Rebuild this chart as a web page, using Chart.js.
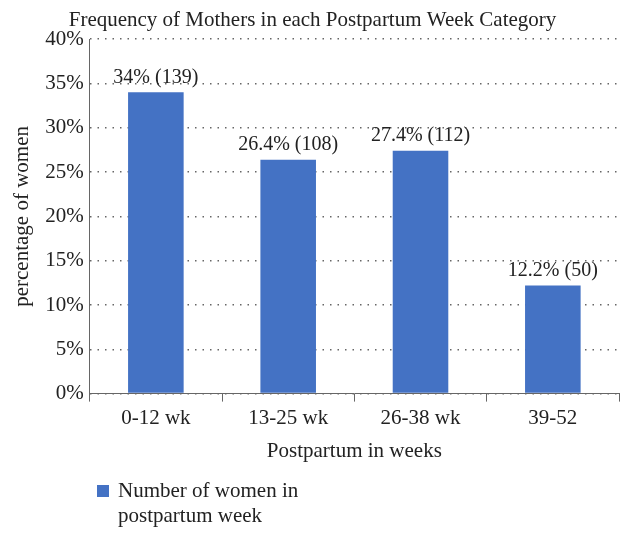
<!DOCTYPE html>
<html><head><meta charset="utf-8">
<script src="https://cdn.jsdelivr.net/npm/chart.js@4/dist/chart.umd.min.js"></script>
<style>
html,body{margin:0;padding:0;background:#fff;}
#wrap{position:relative;width:639px;height:540px;}
#legend{position:absolute;left:97px;top:478px;font-family:"Liberation Serif",serif;font-size:21px;color:#222;line-height:25px;}
#legend span.box{position:absolute;left:0;top:7px;width:12px;height:12px;background:#4472C4;}
#legend div.t{margin-left:21px;}
</style></head>
<body><div id="wrap"><canvas id="c" width="639" height="540"></canvas>
<div id="legend"><span class="box"></span><div class="t">Number of women in<br>postpartum week</div></div></div>
<script>
const categories = ["0-12 wk","13-25 wk","26-38 wk","39-52"];
const percents = [34, 26.4, 27.4, 12.2];
const counts = [139, 108, 112, 50];
const seriesName = "Number of women in postpartum week";
const FONT = "'Liberation Serif', serif";

const labelPlugin = {
  id:'lbl',
  afterDatasetsDraw(chart){
    const ctx=chart.ctx, meta=chart.getDatasetMeta(0);
    ctx.save();ctx.font="20px "+FONT;ctx.fillStyle="#222";ctx.textAlign="center";ctx.textBaseline="bottom";
    meta.data.forEach((b,i)=>{ctx.fillText(percents[i]+"% ("+counts[i]+")", b.x, b.y-5);});
    ctx.restore();
  }
};

new Chart(document.getElementById('c'),{
  type:'bar',
  data:{labels:categories,datasets:[{label:seriesName,data:percents,backgroundColor:'#4472C4',barPercentage:0.42,categoryPercentage:1}]},
  options:{
    responsive:false,animation:false,
    layout:{padding:{left:6,right:20,top:0,bottom:72}},
    plugins:{
      legend:{display:false},tooltip:{enabled:false},
      title:{display:true,text:"Frequency of Mothers in each Postpartum Week Category",font:{family:FONT,size:21,weight:'normal'},color:'#222',padding:{top:8,bottom:6}}
    },
    scales:{
      x:{grid:{display:true,drawOnChartArea:false,offset:true,tickLength:8,color:'#666'},border:{color:'#666'},
         ticks:{font:{family:FONT,size:21},color:'#222',padding:4},
         title:{display:true,text:"Postpartum in weeks",font:{family:FONT,size:21},color:'#222',padding:{top:4}}},
      y:{min:0,max:40,grid:{color:'#666',lineWidth:1.5,drawTicks:false},border:{color:'#666',dash:[1.5,6],display:true},
         ticks:{stepSize:5,font:{family:FONT,size:21},color:'#222',padding:6,callback:v=>v+"%"},
         title:{display:true,text:"percentage of women",font:{family:FONT,size:21},color:'#222'}}
    }
  },
  plugins:[labelPlugin]
});
</script></body></html>
